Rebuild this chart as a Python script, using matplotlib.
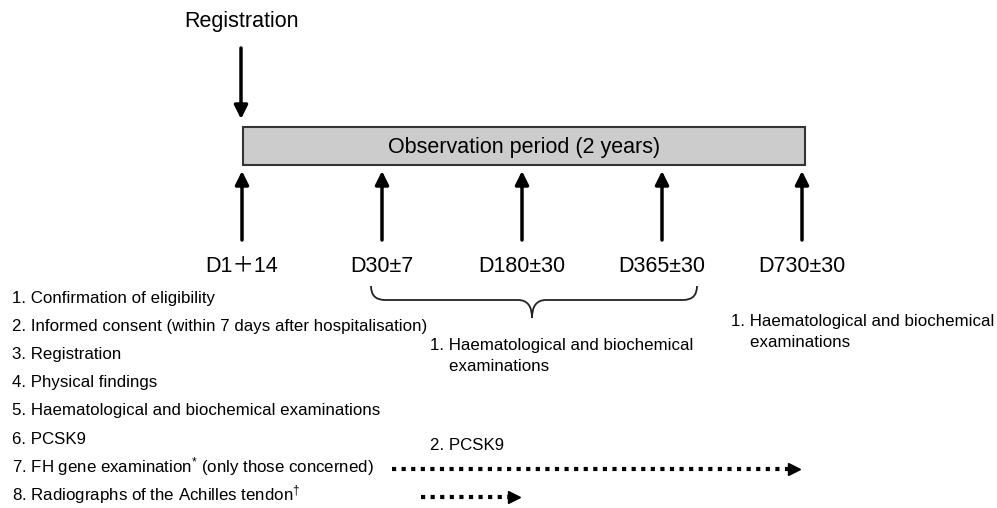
import matplotlib
matplotlib.use("Agg")
from matplotlib import pyplot as plt
from matplotlib.path import Path
from matplotlib.patches import PathPatch, Rectangle

plt.rcParams['font.family'] = ['Liberation Sans', 'Noto Sans CJK JP', 'DejaVu Sans']
plt.rcParams['mathtext.fontset'] = 'custom'
plt.rcParams['mathtext.rm'] = 'Liberation Sans'
plt.rcParams['mathtext.it'] = 'Liberation Sans'

# timeline
timepoints = ["D1\uff0b14", "D30\u00b17", "D180\u00b130", "D365\u00b130", "D730\u00b130"]
box_label = "Observation period (2 years)"
start_label = "Registration"

# procedures at registration
procedures = [
    "1. Confirmation of eligibility",
    "2. Informed consent (within 7 days after hospitalisation)",
    "3. Registration",
    "4. Physical findings",
    "5. Haematological and biochemical examinations",
    "6. PCSK9",
    "7. FH gene examination$^{*}$ (only those concerned)",
    "8. Radiographs of the Achilles tendon$^{\u2020}$",
]
mid_items = ["1. Haematological and biochemical\n    examinations", "2. PCSK9"]
end_items = ["1. Haematological and biochemical\n    examinations"]
# dotted follow-up arrows: (procedure index, last timepoint index reached)
followups = [(6, 4), (7, 2)]

fig = plt.figure(figsize=(9.97, 5.08), dpi=100)
ax = fig.add_axes([0, 0, 1, 1])
ax.set_xlim(0, 997)
ax.set_ylim(508, 0)
ax.axis("off")

x0, step = 242, 140
xs = [x0 + i * step for i in range(len(timepoints))]

ax.text(184, 22, start_label, fontsize=15.5, va="center", ha="left")
ax.annotate("", xy=(xs[0] - 1, 119), xytext=(xs[0] - 1, 48),
            arrowprops=dict(arrowstyle="-|>", lw=2.5, color="black",
                            mutation_scale=20, shrinkA=0, shrinkB=0))

ax.add_patch(Rectangle((243, 127), 562, 38, facecolor="#cccccc",
                       edgecolor="#333333", lw=1.5))
ax.text(524, 147, box_label, fontsize=15.5, ha="center", va="center")

for x, lab in zip(xs, timepoints):
    ax.annotate("", xy=(x, 171), xytext=(x, 240),
                arrowprops=dict(arrowstyle="-|>", lw=2.5, color="black",
                                mutation_scale=20, shrinkA=0, shrinkB=0))
    ax.text(x, 267, lab, fontsize=15.5, ha="center", va="center")

# brace under D30..D365
bl, br, bt, bb, bm = 371, 697, 286, 300, 532
verts = [(bl, bt), (bl, bb), (bl + 14, bb), (bm - 14, bb), (bm, bb), (bm, bb + 18),
         (bm, bb), (bm + 14, bb), (br - 14, bb), (br, bb), (br, bt)]
codes = [Path.MOVETO, Path.CURVE3, Path.CURVE3, Path.LINETO, Path.CURVE3, Path.CURVE3,
         Path.CURVE3, Path.CURVE3, Path.LINETO, Path.CURVE3, Path.CURVE3]
ax.add_patch(PathPatch(Path(verts, codes), fill=False, lw=1.3, edgecolor="#222222"))

ys = [299 + 28 * i for i in range(len(procedures))]
for y, t in zip(ys, procedures):
    ax.text(12, y, t, fontsize=12.2, va="center", ha="left")

ax.text(430, 356, mid_items[0], fontsize=12.2, va="center", ha="left", linespacing=1.45)
ax.text(430, 446, mid_items[1], fontsize=12.2, va="center", ha="left")
ax.text(731, 332, end_items[0], fontsize=12.2, va="center", ha="left", linespacing=1.45)

starts = {6: 392, 7: 421}
for idx, tp in followups:
    y = ys[idx] + 2
    xe = xs[tp] - 10
    ax.plot([starts[idx], xe], [y, y], color="black", lw=3, linestyle=(0, (1, 1.3)))
    ax.plot([xe + 2], [y], marker=">", color="black", markersize=9)

fig.savefig("out.png", dpi=100)
